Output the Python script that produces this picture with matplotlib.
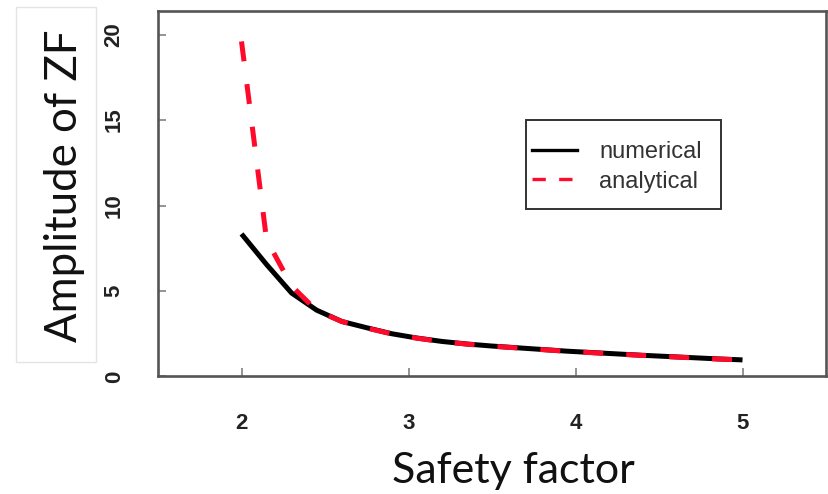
import matplotlib
matplotlib.use("Agg")
import matplotlib.pyplot as plt
from matplotlib.lines import Line2D
from matplotlib.patches import Rectangle

# safety factor samples and zonal-flow amplitudes
safety_factor = [2.00, 2.15, 2.30, 2.45, 2.60, 2.75, 2.90, 3.05, 3.20, 3.35, 3.50,
                 3.65, 3.80, 3.95, 4.10, 4.25, 4.40, 4.55, 4.70, 4.85, 5.00]
zf_numerical = [8.34, 6.55, 4.88, 3.88, 3.22, 2.85, 2.50, 2.25, 2.05, 1.90, 1.78,
                1.68, 1.58, 1.48, 1.40, 1.32, 1.24, 1.17, 1.10, 1.03, 0.97]
zf_analytical = [19.6, 8.0, 5.3, 3.85, 3.22, 2.83, 2.49, 2.24, 2.04, 1.89, 1.77,
                 1.67, 1.57, 1.47, 1.39, 1.31, 1.23, 1.16, 1.09, 1.02, 0.97]

x_ticks = [2, 3, 4, 5]
y_ticks = [0, 5, 10, 15, 20]

red = "#ff0a2a"
axis_grey = "#555555"

fig = plt.figure(figsize=(8.29, 4.94), dpi=100)
ax = fig.add_axes([0.1906, 0.2379, 0.8058, 0.7405])

ax.plot(safety_factor, zf_numerical, color="black", lw=3.6, solid_capstyle="butt")
ax.plot(safety_factor, zf_analytical, color=red, lw=3.6,
        linestyle=(0, (4.0, 4.6)), dash_capstyle="butt")

ax.set_xlim(1.5, 5.5)
ax.set_ylim(0, 21.4)
ax.set_xticks(x_ticks)
ax.set_yticks(y_ticks)

for s in ax.spines.values():
    s.set_color(axis_grey)
    s.set_linewidth(1.9)

tick_font = dict(family=["Liberation Sans", "DejaVu Sans"], weight="bold", size=16)
ax.tick_params(direction="in", length=6, width=1.1, color="#777777")
ax.tick_params(axis="x", pad=26)
ax.tick_params(axis="y", pad=24)
ax.set_xticklabels([str(t) for t in x_ticks], fontdict=tick_font, color="#222222")
ax.set_yticklabels([str(t) for t in y_ticks], fontdict=tick_font, color="#222222",
                   rotation=90, va="center")

# legend box drawn separately so the padding can differ per side
ax.add_patch(Rectangle((0.5505, 0.4579), 0.2919, 0.2433, transform=ax.transAxes,
                       fill=False, edgecolor="#333333", lw=1.4, zorder=5))
handles = [Line2D([], [], color="black", lw=2.4),
           Line2D([], [], color=red, lw=2.4, linestyle=(0, (4.0, 4.0)))]
leg = ax.legend(handles, ["numerical", "analytical"], loc="center left",
                bbox_to_anchor=(0.5594, 0.5727), borderaxespad=0, borderpad=0,
                prop=dict(family=["Liberation Sans", "DejaVu Sans"], size=17),
                frameon=False, handlelength=1.9, handletextpad=0.95,
                labelspacing=0.32)
for t in leg.get_texts():
    t.set_color("#333333")

# axis titles in a larger humanist face
title_font = ["Lato", "DejaVu Sans"]
fig.text(0.0784, 0.6235, "Amplitude of ZF", rotation=90, ha="center", va="center",
         family=title_font, size=31.5, color="#111111")
fig.add_artist(Rectangle((0.0193, 0.2672), 0.0965, 0.7186, transform=fig.transFigure,
                         fill=False, edgecolor="#e4e4e4", lw=1.0))
fig.text(0.619, 0.0223, "Safety factor", ha="center", va="baseline",
         family=title_font, size=31, color="#111111")

fig.savefig("out.png", dpi=100)
